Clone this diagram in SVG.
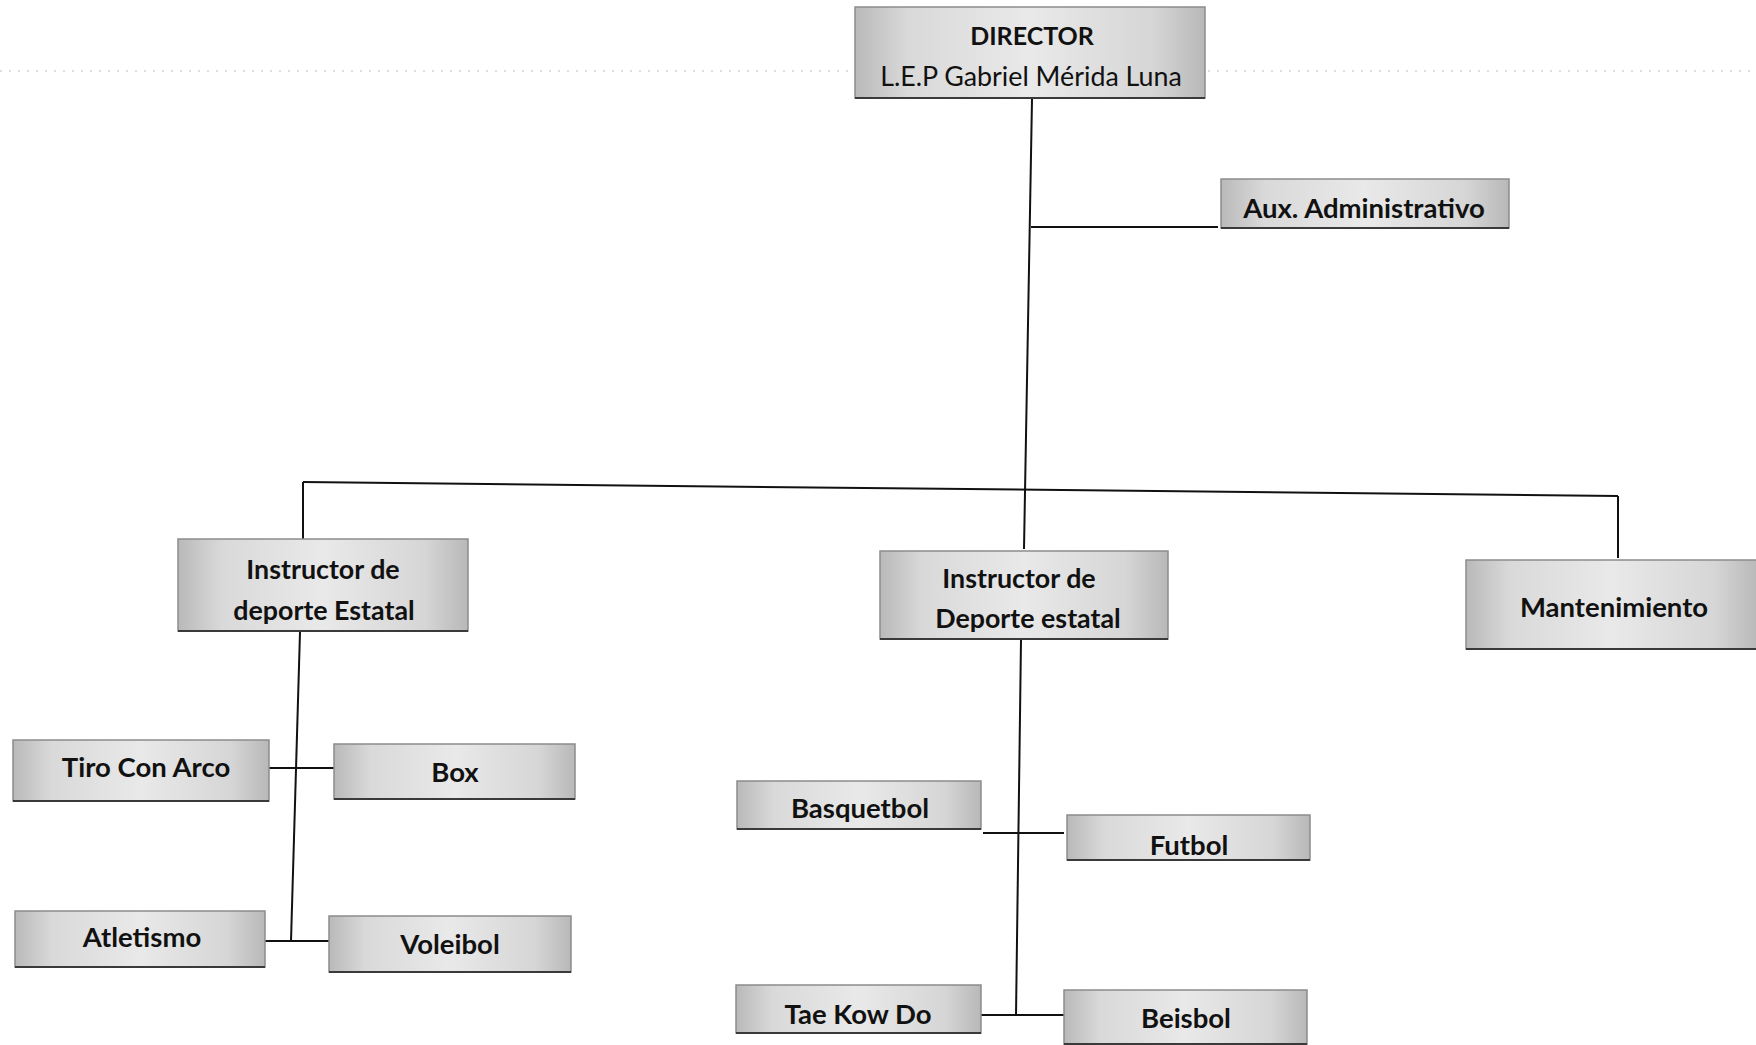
<svg xmlns="http://www.w3.org/2000/svg" width="1756" height="1045" viewBox="0 0 1756 1045">
<defs>
<linearGradient id="g" x1="0" y1="0" x2="1" y2="0">
<stop offset="0" stop-color="#b9b9b9"/>
<stop offset="0.15" stop-color="#d9d9d9"/>
<stop offset="0.5" stop-color="#e9e9e9"/>
<stop offset="0.85" stop-color="#d6d6d6"/>
<stop offset="1" stop-color="#b8b8b8"/>
</linearGradient>
</defs>
<style>
.box{fill:url(#g);stroke:#8c8c8c;stroke-width:1.5}
.bot{stroke:#3a3a3a;stroke-width:2}
.t{font-family:Lato,"Open Sans",sans-serif;font-weight:700;font-size:27.5px;fill:#111;text-anchor:middle}
.i{font-size:26.8px}
.d{font-size:25px}
.r{font-weight:400;font-size:26.8px}
.c{stroke:#111;stroke-width:2;fill:none}
.dot{stroke:#bbb;stroke-width:1;stroke-dasharray:2 7;fill:none}
</style>
<rect width="1756" height="1045" fill="#fff"/>
<g id="scan-lines">
<line class="dot" x1="0" y1="71" x2="852" y2="71"/>
<line class="dot" x1="1208" y1="71" x2="1756" y2="71"/>
</g>
<g id="connectors">
<line class="c" x1="1032" y1="99" x2="1024" y2="549"/>
<line class="c" x1="1031" y1="227" x2="1218" y2="227"/>
<line class="c" x1="303" y1="482" x2="1618" y2="496"/>
<line class="c" x1="303" y1="482" x2="303" y2="539"/>
<line class="c" x1="1618" y1="496" x2="1618" y2="558"/>
<line class="c" x1="300" y1="632" x2="291" y2="941"/>
<line class="c" x1="269" y1="768" x2="334" y2="768"/>
<line class="c" x1="265" y1="941" x2="329" y2="941"/>
<line class="c" x1="1021" y1="640" x2="1016" y2="1015"/>
<line class="c" x1="983" y1="833" x2="1064" y2="833"/>
<line class="c" x1="981" y1="1015" x2="1064" y2="1015"/>
</g>
<g id="director">
<rect class="box" x="855" y="7" width="350" height="91"/>
<line class="bot" x1="855" y1="98" x2="1205" y2="98"/>
<text class="t d" x="1032" y="45">DIRECTOR</text>
<text class="t r" x="1031" y="86">L.E.P Gabriel Mérida Luna</text>
</g>
<g id="aux">
<rect class="box" x="1221" y="179" width="288" height="49"/>
<line class="bot" x1="1221" y1="228" x2="1509" y2="228"/>
<text class="t" x="1364" y="218">Aux. Administrativo</text>
</g>
<g id="instructor-1">
<rect class="box" x="178" y="539" width="290" height="92"/>
<line class="bot" x1="178" y1="631" x2="468" y2="631"/>
<text class="t i" x="323" y="579">Instructor de</text>
<text class="t i" x="324" y="620">deporte Estatal</text>
</g>
<g id="instructor-2">
<rect class="box" x="880" y="551" width="288" height="88"/>
<line class="bot" x1="880" y1="639" x2="1168" y2="639"/>
<text class="t i" x="1019" y="588">Instructor de</text>
<text class="t i" x="1028" y="628">Deporte estatal</text>
</g>
<g id="mantenimiento">
<rect class="box" x="1466" y="560" width="292" height="89"/>
<line class="bot" x1="1466" y1="649" x2="1756" y2="649"/>
<text class="t" x="1614" y="617">Mantenimiento</text>
</g>
<g id="tiro">
<rect class="box" x="13" y="740" width="256" height="61"/>
<line class="bot" x1="13" y1="801" x2="269" y2="801"/>
<text class="t" x="146" y="777">Tiro Con Arco</text>
</g>
<g id="box">
<rect class="box" x="334" y="744" width="241" height="55"/>
<line class="bot" x1="334" y1="799" x2="575" y2="799"/>
<text class="t" x="455" y="782">Box</text>
</g>
<g id="atletismo">
<rect class="box" x="15" y="911" width="250" height="56"/>
<line class="bot" x1="15" y1="967" x2="265" y2="967"/>
<text class="t" x="142" y="947">Atletismo</text>
</g>
<g id="voleibol">
<rect class="box" x="329" y="916" width="242" height="56"/>
<line class="bot" x1="329" y1="972" x2="571" y2="972"/>
<text class="t" x="450" y="954">Voleibol</text>
</g>
<g id="basquetbol">
<rect class="box" x="737" y="781" width="244" height="48"/>
<line class="bot" x1="737" y1="829" x2="981" y2="829"/>
<text class="t" x="860" y="818">Basquetbol</text>
</g>
<g id="futbol">
<rect class="box" x="1067" y="815" width="243" height="45"/>
<line class="bot" x1="1067" y1="860" x2="1310" y2="860"/>
<text class="t" x="1189" y="855">Futbol</text>
</g>
<g id="taekowdo">
<rect class="box" x="736" y="985" width="245" height="48"/>
<line class="bot" x1="736" y1="1033" x2="981" y2="1033"/>
<text class="t" x="858" y="1024">Tae Kow Do</text>
</g>
<g id="beisbol">
<rect class="box" x="1064" y="990" width="243" height="55"/>
<line class="bot" x1="1064" y1="1044" x2="1307" y2="1044"/>
<text class="t" x="1186" y="1028">Beisbol</text>
</g>
</svg>
